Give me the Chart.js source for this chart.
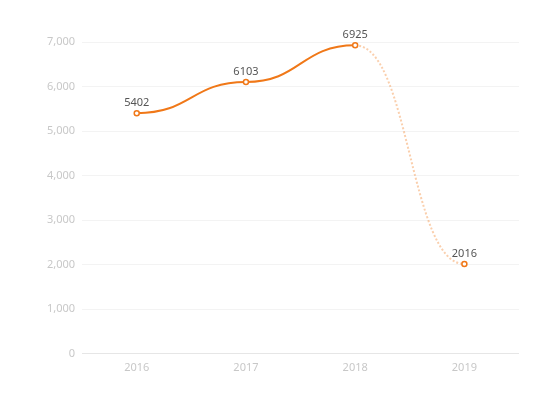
<!DOCTYPE html>
<html>
<head>
<meta charset="utf-8">
<script src="https://cdn.jsdelivr.net/npm/chart.js@4"></script>
<style>
  html, body { margin: 0; padding: 0; background: #fff; }
  #wrap { width: 560px; height: 395px; }
</style>
</head>
<body>
<div id="wrap"><canvas id="yearChart" width="560" height="395"></canvas></div>
<script>
const years = ["2016", "2017", "2018", "2019"];
const counts = [5402, 6103, 6925, 2016];
const yTicks = [0, 1000, 2000, 3000, 4000, 5000, 6000, 7000];

const lineColor = "#f07818";
const fadedColor = "rgba(242, 130, 40, 0.38)";
const lastSolid = 2; // segment after this index is the forecast, dotted

// flat tangents at every point (echarts-like smoothing)
const flatCurve = {
  id: "flatCurve",
  beforeDatasetsDraw(chart) {
    chart.getSortedVisibleDatasetMetas().forEach(meta => {
      const pts = meta.data;
      for (let i = 0; i < pts.length; i++) {
        const p = pts[i];
        const prev = pts[i - 1], next = pts[i + 1];
        p.cp1x = prev ? p.x - (p.x - prev.x) * 0.5 : p.x;
        p.cp1y = p.y;
        p.cp2x = next ? p.x + (next.x - p.x) * 0.5 : p.x;
        p.cp2y = p.y;
      }
      meta.dataset._pointsUpdated = true;
    });
  }
};

const valueLabels = {
  id: "valueLabels",
  afterDatasetsDraw(chart) {
    const ctx = chart.ctx;
    const meta = chart.getDatasetMeta(0);
    ctx.save();
    ctx.font = "11px 'Noto Sans'";
    ctx.fillStyle = "#555";
    ctx.textAlign = "center";
    ctx.textBaseline = "bottom";
    meta.data.forEach((pt, i) => {
      ctx.fillText(String(counts[i]), pt.x, pt.y - 5);
    });
    ctx.restore();
  }
};

new Chart(document.getElementById("yearChart"), {
  type: "line",
  data: {
    labels: years,
    datasets: [{
      data: counts,
      borderColor: lineColor,
      borderWidth: 2,
      tension: 0.4,
      pointRadius: 2.5,
      pointBorderWidth: 1.5,
      pointBackgroundColor: "#fff",
      pointBorderColor: lineColor,
      fill: false,
      segment: {
        borderColor: ctx => ctx.p0DataIndex >= lastSolid ? fadedColor : undefined,
        borderDash: ctx => ctx.p0DataIndex >= lastSolid ? [2, 2] : undefined
      }
    }]
  },
  options: {
    responsive: false,
    animation: false,
    layout: { padding: { left: 40, right: 41, top: 42, bottom: 14 } },
    plugins: {
      legend: { display: false },
      tooltip: { enabled: false }
    },
    scales: {
      x: {
        offset: true,
        grid: { display: false, drawTicks: false, tickLength: 0 },
        border: { display: false },
        ticks: { color: "#c8c8c8", padding: 7, font: { family: "Noto Sans", size: 11 } }
      },
      y: {
        min: yTicks[0],
        max: yTicks[yTicks.length - 1],
        afterBuildTicks: axis => { axis.ticks = yTicks.map(v => ({ value: v })); },
        grid: { color: ctx => ctx.tick.value === 0 ? "#e6e6e6" : "#f3f3f3", drawTicks: false },
        border: { display: false },
        ticks: {
          color: "#c8c8c8",
          padding: 7,
          font: { family: "Noto Sans", size: 11 },
          callback: v => v.toLocaleString("en-US")
        }
      }
    }
  },
  plugins: [flatCurve, valueLabels]
});
</script>
</body>
</html>
